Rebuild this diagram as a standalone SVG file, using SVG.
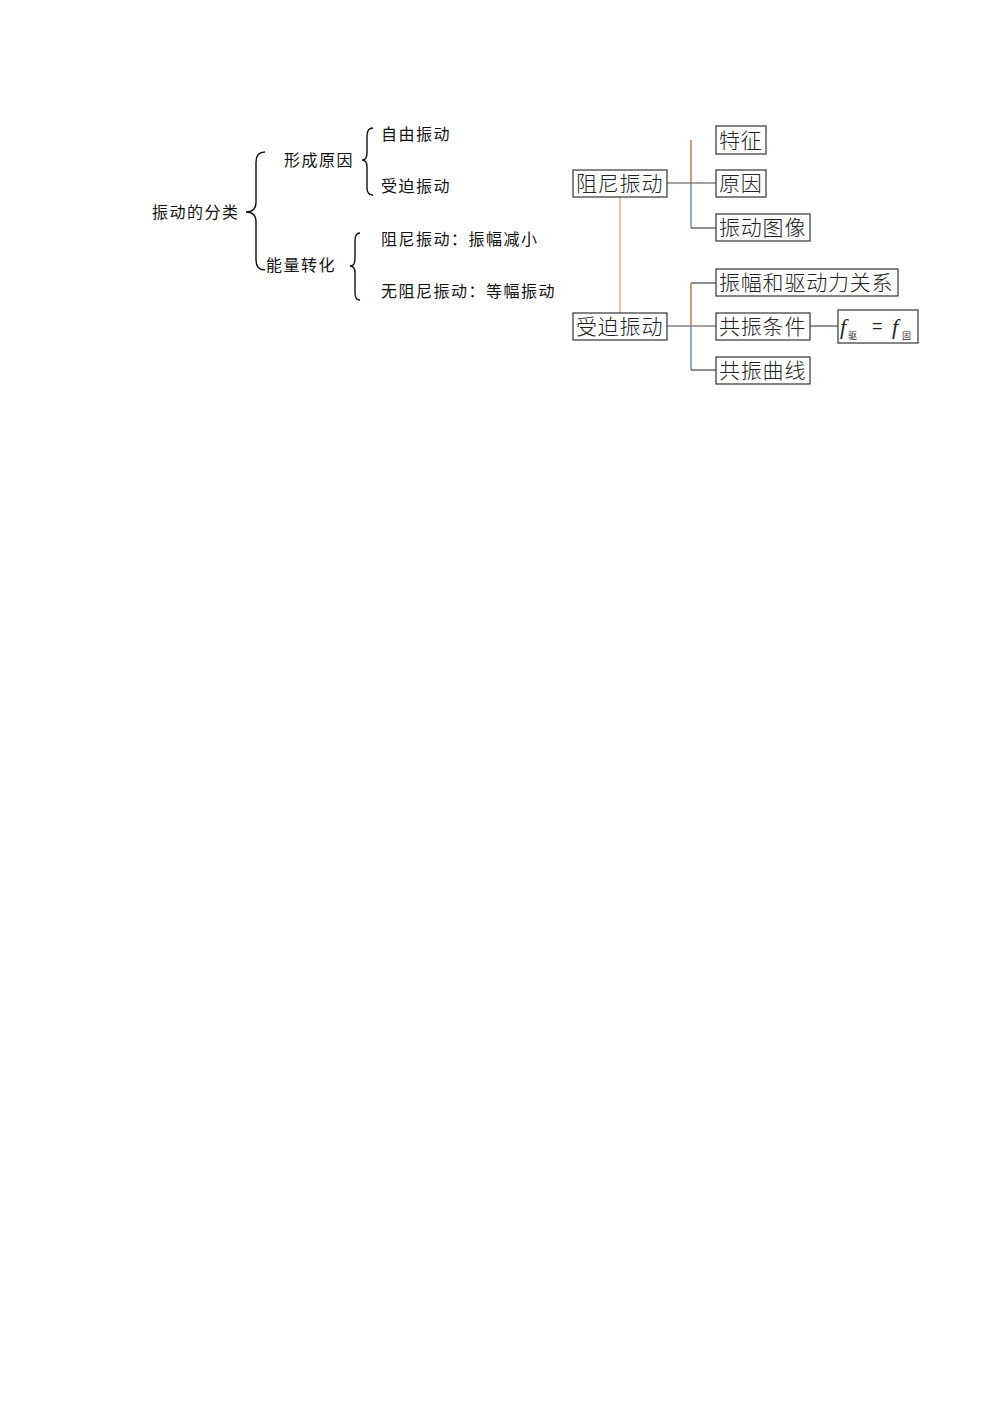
<svg xmlns="http://www.w3.org/2000/svg" width="1000" height="1414" viewBox="0 0 1000 1414">
<style>
.t{font-family:"Noto Sans CJK SC","Liberation Sans",sans-serif;font-size:16px;letter-spacing:1.5px;fill:#111}
.b{font-family:"Noto Sans CJK SC","Liberation Sans",sans-serif;font-size:21px;letter-spacing:0.8px;fill:#222;font-weight:300}
.box{fill:#fff;stroke:#333;stroke-width:1.2}
.br{fill:none;stroke:#111;stroke-width:1.4}
.ln{fill:none;stroke:#444;stroke-width:1.2}
.or{fill:none;stroke:#e0a060;stroke-width:1.2}
.bl{fill:none;stroke:#4a72c0;stroke-width:1.2}
.bn{fill:none;stroke:#b05a20;stroke-width:1.2}
</style>
<rect width="1000" height="1414" fill="#fff"/>
<g id="connectors">
<path class="br" d="M265,152 Q256,152 256,162 L256,202 Q256,212 246,212 Q256,212 256,222 L256,260 Q256,270 265,270"/>
<path class="br" d="M373,128 Q367,128 367,136 L367,153 Q367,160 362,160 Q367,160 367,167 L367,188 Q367,195 373,195"/>
<path class="br" d="M360,233 Q355,233 355,241 L355,259 Q355,266 350,266 Q355,266 355,273 L355,293 Q355,300 360,300"/>
<path class="or" d="M620,197 L620,313"/>
<path class="ln" d="M667,183 L716,183"/>
<path class="bn" d="M691,140 L691,183"/>
<path class="bl" d="M691,183 L691,228"/>
<path class="ln" d="M691,228 L716,228"/>
<path class="ln" d="M667,326 L716,326"/>
<path class="bn" d="M691,283 L691,326"/>
<path class="bl" d="M691,326 L691,370"/>
<path class="ln" d="M691,283 L716,283"/>
<path class="ln" d="M691,370 L716,370"/>
<path class="ln" d="M810,326 L838,326"/>
</g>
<g id="root"><text class="t" x="152" y="218">振动的分类</text></g>
<g id="cause"><text class="t" x="284" y="166">形成原因</text></g>
<g id="free"><text class="t" x="381" y="140">自由振动</text></g>
<g id="forced1"><text class="t" x="381" y="192">受迫振动</text></g>
<g id="energy"><text class="t" x="266" y="271">能量转化</text></g>
<g id="damped1"><text class="t" x="381" y="245">阻尼振动：振幅减小</text></g>
<g id="undamped"><text class="t" x="381" y="297">无阻尼振动：等幅振动</text></g>
<g id="damped"><rect class="box" x="573" y="170" width="94" height="27"/><text class="b" x="576" y="191">阻尼振动</text></g>
<g id="feature"><rect class="box" x="716" y="126" width="50" height="28"/><text class="b" x="719" y="148">特征</text></g>
<g id="reason"><rect class="box" x="716" y="170" width="50" height="27"/><text class="b" x="719" y="191">原因</text></g>
<g id="graph"><rect class="box" x="716" y="214" width="94" height="27"/><text class="b" x="719" y="235">振动图像</text></g>
<g id="forced"><rect class="box" x="573" y="313" width="94" height="27"/><text class="b" x="576" y="334">受迫振动</text></g>
<g id="relation"><rect class="box" x="716" y="269" width="182" height="27"/><text class="b" x="719" y="290">振幅和驱动力关系</text></g>
<g id="condition"><rect class="box" x="716" y="313" width="94" height="27"/><text class="b" x="719" y="334">共振条件</text></g>
<g id="formula"><rect class="box" x="838" y="310" width="80" height="33"/><text x="840" y="334" font-family="Liberation Serif,serif" font-style="italic" font-size="22" fill="#222">f</text><text x="848" y="339" font-family="Noto Sans CJK SC,sans-serif" font-size="9" fill="#333">驱</text><text x="872" y="332" font-family="Liberation Sans,sans-serif" font-size="18" fill="#222">=</text><text x="892" y="334" font-family="Liberation Serif,serif" font-style="italic" font-size="22" fill="#222">f</text><text x="902" y="339" font-family="Noto Sans CJK SC,sans-serif" font-size="9" fill="#333">固</text></g>
<g id="curve"><rect class="box" x="716" y="357" width="94" height="27"/><text class="b" x="719" y="378">共振曲线</text></g>
</svg>
